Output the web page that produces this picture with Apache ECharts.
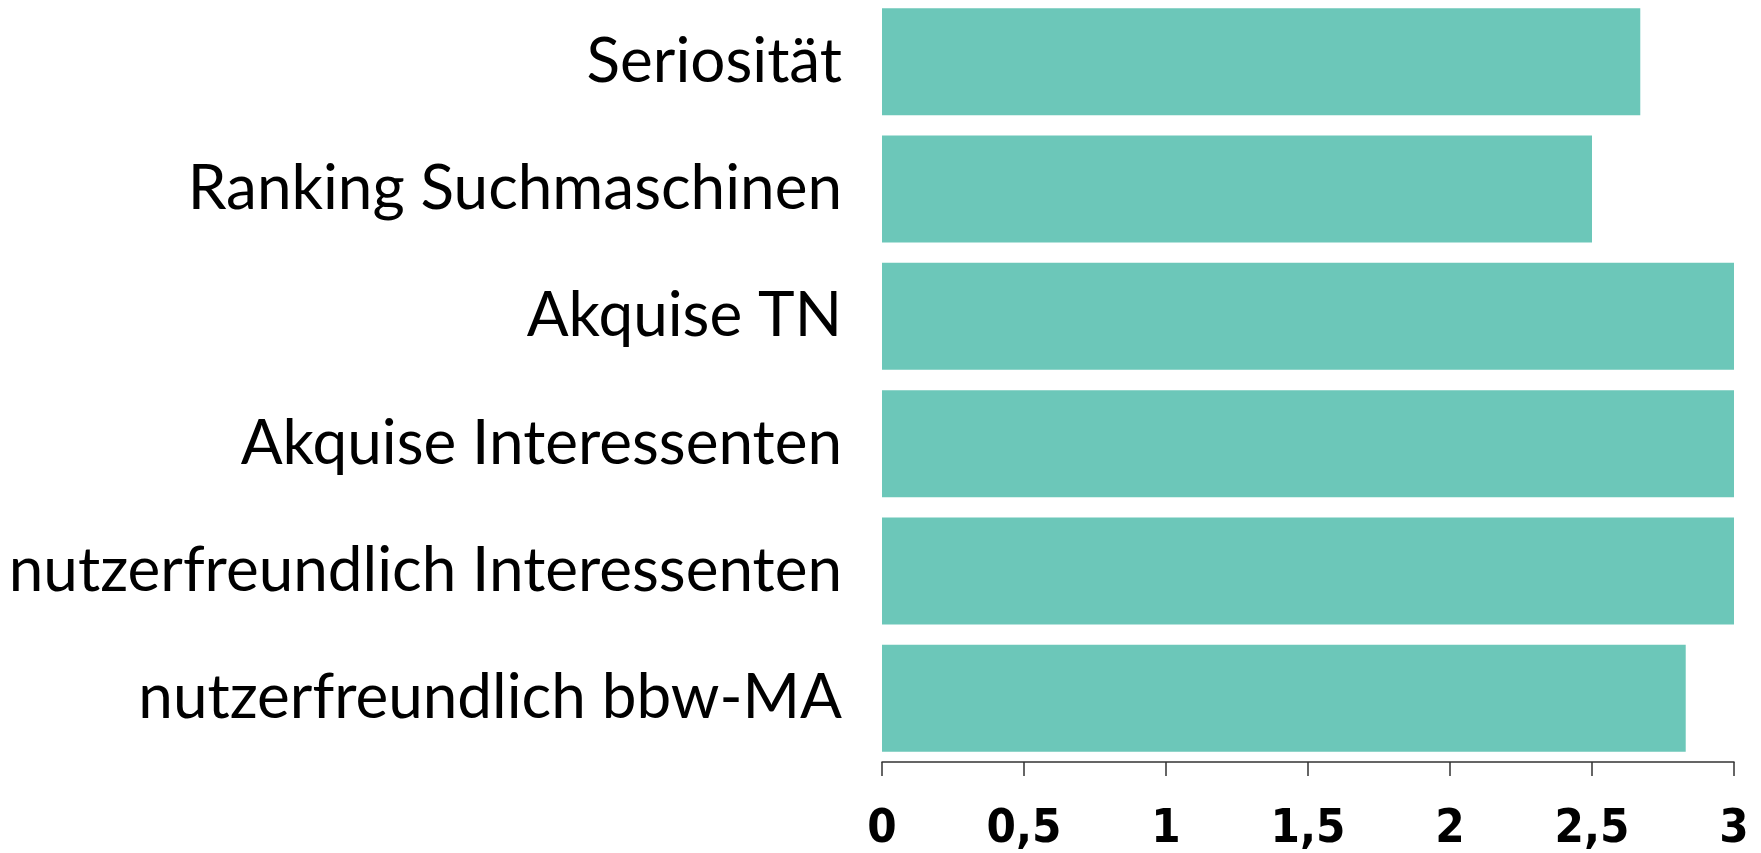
<!DOCTYPE html>
<html>
<head>
<meta charset="utf-8">
<script src="https://cdn.jsdelivr.net/npm/echarts@6/dist/echarts.min.js"></script>
<style>
  html, body { margin: 0; padding: 0; background: #fff; }
  #chart { width: 1761px; height: 853px; }
</style>
</head>
<body>
<div id="chart"></div>
<script>
// Kategorien von oben nach unten
var categories = ['Seriosität', 'Ranking Suchmaschinen', 'Akquise TN', 'Akquise Interessenten', 'nutzerfreundlich Interessenten', 'nutzerfreundlich bbw-MA'];
var values = [2.67, 2.5, 3, 3, 3, 2.83];
var xTicks = [0, 0.5, 1, 1.5, 2, 2.5, 3];

var chart = echarts.init(document.getElementById('chart'));
var option = {
  animation: false,
  grid: { left: 882, right: 27, top: -2, bottom: 91, containLabel: false, outerBoundsMode: 'none' },
  xAxis: {
    type: 'value',
    min: xTicks[0],
    max: xTicks[xTicks.length - 1],
    interval: 0.5,
    splitLine: { show: false },
    axisLine: { show: true, lineStyle: { color: '#333', width: 1.5 } },
    axisTick: { show: true, length: 14, lineStyle: { color: '#333', width: 1.5 } },
    axisLabel: {
      color: '#000',
      fontFamily: 'DejaVu Sans Condensed',
      fontWeight: 'bold',
      fontSize: 47,
      lineHeight: 48,
      margin: 44,
      formatter: function (v) { return String(v).replace('.', ','); }
    }
  },
  yAxis: {
    type: 'category',
    data: categories,
    inverse: true,
    axisLine: { show: false },
    axisTick: { show: false },
    axisLabel: {
      color: '#000',
      fontFamily: 'Lato',
      fontSize: 62,
      margin: 40
    }
  },
  series: [{
    type: 'bar',
    data: values,
    barCategoryGap: '16%',
    itemStyle: { color: '#6cc7b9' }
  }]
};
chart.setOption(option);
</script>
</body>
</html>
